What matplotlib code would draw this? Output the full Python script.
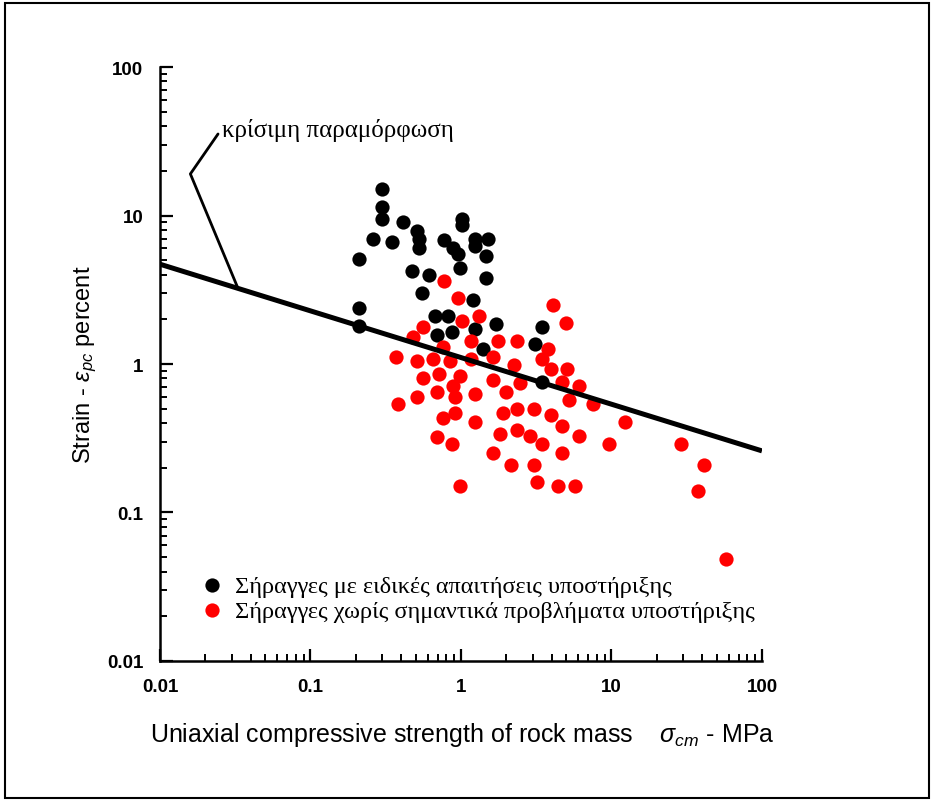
import numpy as np
import matplotlib
matplotlib.use("Agg")
import matplotlib.pyplot as plt
from matplotlib.patches import Rectangle
from matplotlib.ticker import LogLocator, NullFormatter

# tunnels with special support requirements (black)
black_x = [0.30, 0.30, 0.30, 0.41, 0.51, 0.26, 0.35, 0.53, 0.53, 0.77,
           0.89, 0.95, 1.02, 1.02, 1.23, 1.23, 1.51, 1.46, 0.21, 0.47,
           0.61, 0.98, 1.46, 0.55, 1.20, 0.21, 0.21, 0.67, 0.82, 0.69,
           0.87, 1.23, 1.71, 3.45, 3.10, 1.40, 3.45]
black_y = [15.1, 11.4, 9.5, 9.1, 7.9, 7.0, 6.6, 6.9, 6.0, 6.8,
           6.0, 5.5, 9.5, 8.6, 7.0, 6.2, 6.9, 5.3, 5.1, 4.2,
           4.0, 4.4, 3.8, 3.0, 2.7, 2.4, 1.8, 2.1, 2.1, 1.56,
           1.64, 1.72, 1.86, 1.77, 1.36, 1.26, 0.76]

# tunnels without significant support problems (red)
red_x = [0.77, 0.95, 4.1, 1.32, 1.02, 5.0, 0.56, 0.48, 0.76, 1.16,
         1.76, 2.37, 3.78, 3.45, 0.37, 0.51, 0.65, 0.85, 1.16, 1.62,
         2.25, 3.94, 5.06, 0.56, 0.71, 0.98, 0.89, 1.62, 1.99, 2.45,
         4.72, 6.04, 0.69, 0.51, 0.91, 1.23, 5.26, 7.5, 0.38, 0.91,
         1.90, 2.37, 3.05, 0.76, 1.23, 3.94, 12.3, 4.72, 1.83, 2.37,
         2.87, 6.04, 0.69, 0.87, 3.45, 9.6, 29.0, 1.62, 4.72, 2.15,
         3.05, 41.0, 3.18, 0.98, 4.42, 5.72, 37.6, 58.0]
red_y = [3.6, 2.8, 2.5, 2.1, 1.95, 1.89, 1.77, 1.52, 1.30, 1.42,
         1.42, 1.42, 1.26, 1.08, 1.11, 1.05, 1.08, 1.05, 1.08, 1.11,
         0.98, 0.93, 0.93, 0.80, 0.85, 0.83, 0.71, 0.78, 0.65, 0.74,
         0.76, 0.71, 0.65, 0.60, 0.60, 0.63, 0.57, 0.54, 0.54, 0.47,
         0.47, 0.50, 0.50, 0.43, 0.41, 0.45, 0.41, 0.38, 0.34, 0.36,
         0.33, 0.33, 0.32, 0.29, 0.29, 0.29, 0.29, 0.25, 0.25, 0.21,
         0.21, 0.21, 0.16, 0.15, 0.15, 0.15, 0.14, 0.049]

# critical strain line
crit_x = [0.01, 100]
crit_y = [4.7, 0.26]

ticks = [0.01, 0.1, 1, 10, 100]
tick_labels = ["0.01", "0.1", "1", "10", "100"]

label_black = "Σήραγγες με ειδικές απαιτήσεις υποστήριξης"
label_red = "Σήραγγες χωρίς σημαντικά προβλήματα υποστήριξης"
crit_label = "κρίσιμη παραμόρφωση"

plt.rcParams['font.family'] = ['Liberation Sans', 'DejaVu Sans']
plt.rcParams['mathtext.fontset'] = 'custom'
plt.rcParams['mathtext.it'] = 'Liberation Sans:italic'
plt.rcParams['mathtext.rm'] = 'Liberation Sans'

serif = ['Liberation Serif', 'DejaVu Serif']

fig = plt.figure(figsize=(9.34, 8.03), dpi=100)
ax = fig.add_axes([0.1713, 0.1756, 0.6445, 0.7397])

ax.scatter(black_x, black_y, s=105, c='black', linewidths=0, label=label_black, zorder=3)
ax.scatter(red_x, red_y, s=105, c='#ff0000', linewidths=0, label=label_red, zorder=3)
ax.plot(crit_x, crit_y, color='black', lw=3.6, zorder=4, solid_capstyle='butt')

ax.set_xscale('log')
ax.set_yscale('log')
ax.set_xlim(0.01, 100)
ax.set_ylim(0.01, 100)

ax.set_xticks(ticks)
ax.set_xticklabels(tick_labels)
ax.set_yticks(ticks)
ax.set_yticklabels(tick_labels)
ax.xaxis.set_minor_locator(LogLocator(base=10, subs=np.arange(2, 10)))
ax.yaxis.set_minor_locator(LogLocator(base=10, subs=np.arange(2, 10)))
ax.xaxis.set_minor_formatter(NullFormatter())
ax.yaxis.set_minor_formatter(NullFormatter())

ax.tick_params(which='major', direction='in', length=9, width=1.6, labelsize=13.5, pad=12)
ax.tick_params(which='minor', direction='in', length=5, width=1.4)
for lab in ax.get_xticklabels() + ax.get_yticklabels():
    lab.set_fontweight('bold')

for s in ['top', 'right']:
    ax.spines[s].set_visible(False)
for s in ['left', 'bottom']:
    ax.spines[s].set_linewidth(1.8)

ax.set_xlabel(r"Uniaxial compressive strength of rock mass    $\sigma_{cm}$ - MPa", fontsize=18)
ax.xaxis.set_label_coords(0.502, -0.1)
ax.set_ylabel(r"Strain - $\varepsilon_{pc}$ percent", fontsize=17)
ax.yaxis.set_label_coords(-0.102, 0.5)

# annotation of the critical strain line
target_x = 0.033
target_y = 10 ** np.interp(np.log10(target_x), np.log10(crit_x), np.log10(crit_y))
ax.annotate("", xy=(target_x, target_y), xytext=(0.0243, 35.4),
            arrowprops=dict(arrowstyle='-', lw=2.0, shrinkA=0, shrinkB=0,
                            connectionstyle='angle,angleA=55.3,angleB=112.6,rad=0'))
ax.text(0.0258, 38, crit_label, fontsize=18, family=serif, ha='left', va='center')

leg = ax.legend(loc='lower left', bbox_to_anchor=(0.05, 0.05), frameon=False,
                prop={'family': serif, 'size': 17.5},
                handlelength=1.0, handletextpad=0.45, labelspacing=0.12, borderaxespad=0)

fig.patches.append(Rectangle((0.005, 0.005), 0.99, 0.99, transform=fig.transFigure,
                             fill=False, lw=1.5, edgecolor='black'))

fig.savefig("out.png", dpi=100)
